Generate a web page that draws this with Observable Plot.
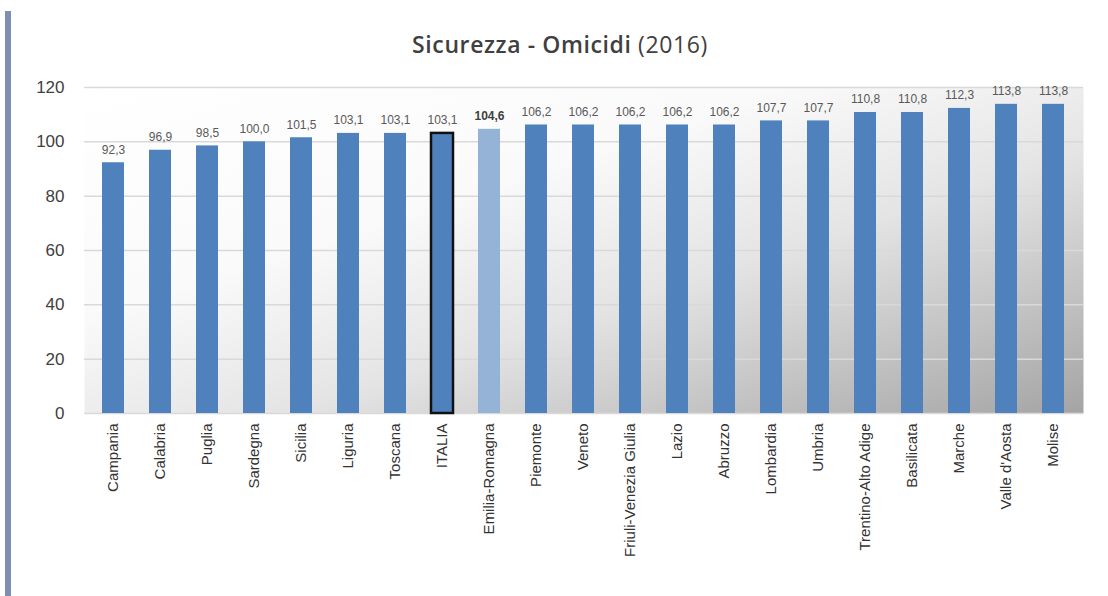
<!DOCTYPE html>
<html>
<head>
<meta charset="utf-8">
<script src="https://cdn.jsdelivr.net/npm/d3@7"></script>
<script src="https://cdn.jsdelivr.net/npm/@observablehq/plot@0.6"></script>
<style>
  html, body { margin: 0; padding: 0; background: #fff; }
  #wrap { position: relative; width: 1108px; height: 596px; overflow: hidden; }
  #sidebar { position: absolute; left: 5px; top: 11px; width: 6px; height: 585px; background: #7f8fb0; }
  #title { position: absolute; top: 28px; left: 0; width: 1120px; text-align: center;
    font-family: "Open Sans", "Liberation Sans", sans-serif; font-size: 23px; letter-spacing: 0.6px; font-weight: 600; color: #404040; }
  #title span { font-weight: 400; }
  #chart { position: absolute; left: 0; top: 0; }
</style>
</head>
<body>
<div id="wrap">
  <div id="sidebar"></div>
  <div id="chart"></div>
  <div id="title">Sicurezza - Omicidi <span>(2016)</span></div>
</div>
<script>
const regions = ["Campania","Calabria","Puglia","Sardegna","Sicilia","Liguria","Toscana","ITALIA","Emilia-Romagna","Piemonte","Veneto","Friuli-Venezia Giulia","Lazio","Abruzzo","Lombardia","Umbria","Trentino-Alto Adige","Basilicata","Marche","Valle d'Aosta","Molise"];
const values = [92.3,96.9,98.5,100.0,101.5,103.1,103.1,103.1,104.6,106.2,106.2,106.2,106.2,106.2,107.7,107.7,110.8,110.8,112.3,113.8,113.8];
const yTicks = [0,20,40,60,80,100,120];
const highlight = "Emilia-Romagna";
const national = "ITALIA";

const data = regions.map((r, i) => ({region: r, value: values[i]}));
const fmt = v => v.toFixed(1).replace(".", ",");
const plain = data.filter(d => d.region !== highlight);
const hl = data.filter(d => d.region === highlight);
const nat = data.filter(d => d.region === national);

const plot = Plot.plot({
  width: 1108,
  height: 596,
  marginLeft: 84,
  marginRight: 25,
  marginTop: 87,
  marginBottom: 183,
  style: {fontFamily: "'Liberation Sans', sans-serif", background: "transparent", overflow: "visible"},
  x: {domain: regions, paddingInner: 0.53, paddingOuter: 0.25, label: null},
  y: {domain: [0, 120], label: null},
  marks: [
    Plot.frame({fill: "url(#bggrad)", stroke: null}),
    Plot.gridY(yTicks, {stroke: "#d9d9d9", strokeOpacity: 1, strokeWidth: 1.5}),
    Plot.barY(plain, {x: "region", y: "value", fill: "#4f81bd"}),
    Plot.barY(hl, {x: "region", y: "value", fill: "#95b3d7"}),
    Plot.barY(nat, {x: "region", y: "value", fill: "none", stroke: "#111", strokeWidth: 2.5}),
    Plot.text(plain, {x: "region", y: "value", text: d => fmt(d.value), dy: -13,
      fontSize: 12, fill: "#595959"}),
    Plot.text(hl, {x: "region", y: "value", text: d => fmt(d.value), dy: -13,
      fontSize: 12, fill: "#404040", fontWeight: "bold"}),
    Plot.axisX({tickRotate: -90, tickSize: 0, tickPadding: 10, fontSize: 15, color: "#333", label: null}),
    Plot.axisY(yTicks, {tickSize: 0, tickPadding: 20, fontSize: 17, color: "#404040", label: null})
  ]
});

const ns = "http://www.w3.org/2000/svg";
const defs = document.createElementNS(ns, "defs");
defs.innerHTML = `<linearGradient id="bggrad" x1="0" y1="0" x2="1" y2="1">
  <stop offset="0" stop-color="#ffffff"/>
  <stop offset="0.35" stop-color="#fafafa"/>
  <stop offset="0.6" stop-color="#e4e4e4"/>
  <stop offset="1" stop-color="#a4a4a4"/>
</linearGradient>`;
plot.insertBefore(defs, plot.firstChild);
document.getElementById("chart").appendChild(plot);
</script>
</body>
</html>
